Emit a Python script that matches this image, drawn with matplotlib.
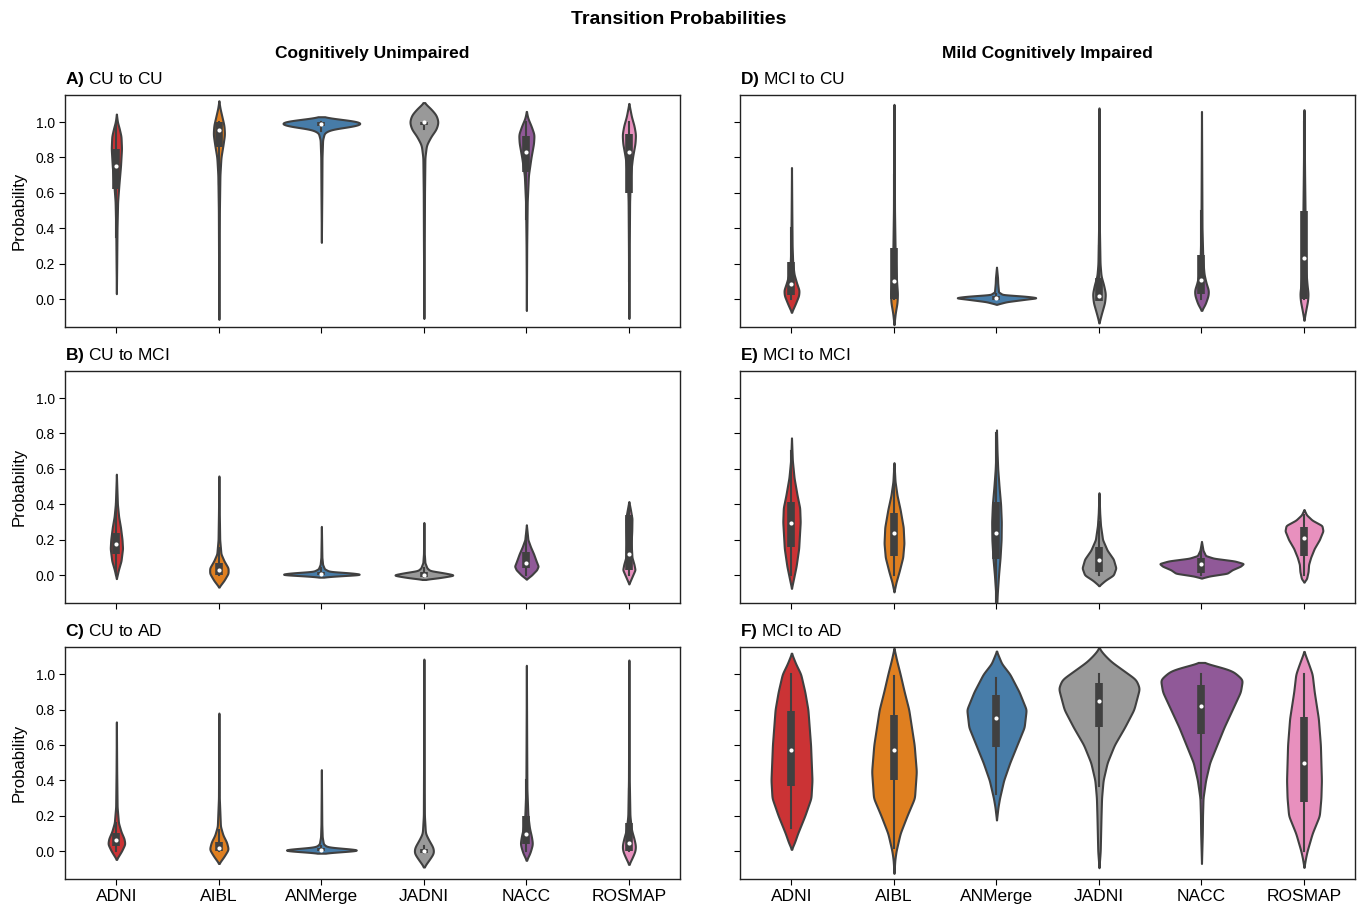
import numpy as np
import matplotlib
matplotlib.use("Agg")
import matplotlib.pyplot as plt
import seaborn as sns

plt.rcParams["font.family"] = ["Liberation Sans", "DejaVu Sans"]
plt.rcParams["mathtext.fontset"] = "custom"
plt.rcParams["mathtext.bf"] = "Liberation Sans:bold"
plt.rcParams["mathtext.rm"] = "Liberation Sans"

cohorts = ["ADNI", "AIBL", "ANMerge", "JADNI", "NACC", "ROSMAP"]

# violin outlines: (probability, half width) from bottom to top, one list per cohort
cu_cu_shape = [
    [(0.03, 0), (0.2, 0.003), (0.4, 0.006), (0.55, 0.012), (0.65, 0.025), (0.75, 0.04), (0.85, 0.05), (0.92, 0.045), (0.97, 0.025), (1.0, 0.01), (1.045, 0)],
    [(-0.115, 0), (0.2, 0.003), (0.5, 0.005), (0.7, 0.01), (0.8, 0.02), (0.87, 0.04), (0.93, 0.055), (0.98, 0.05), (1.03, 0.03), (1.08, 0.01), (1.12, 0)],
    [(0.32, 0), (0.6, 0.004), (0.8, 0.006), (0.9, 0.012), (0.94, 0.03), (0.96, 0.1), (0.975, 0.3), (0.99, 0.4), (1.005, 0.35), (1.02, 0.12), (1.03, 0)],
    [(-0.11, 0), (0.3, 0.004), (0.6, 0.006), (0.8, 0.01), (0.87, 0.025), (0.92, 0.07), (0.96, 0.12), (1.0, 0.14), (1.04, 0.12), (1.08, 0.06), (1.11, 0)],
    [(-0.065, 0), (0.3, 0.003), (0.55, 0.008), (0.7, 0.02), (0.8, 0.045), (0.88, 0.07), (0.93, 0.075), (0.98, 0.045), (1.02, 0.015), (1.06, 0)],
    [(-0.11, 0), (0.3, 0.004), (0.55, 0.007), (0.7, 0.015), (0.8, 0.035), (0.88, 0.06), (0.93, 0.065), (0.98, 0.05), (1.03, 0.025), (1.105, 0)],
]
cu_mci_shape = [
    [(-0.02, 0), (0.03, 0.02), (0.08, 0.045), (0.15, 0.06), (0.2, 0.055), (0.27, 0.04), (0.33, 0.022), (0.4, 0.01), (0.5, 0.004), (0.57, 0)],
    [(-0.068, 0), (-0.03, 0.05), (0.01, 0.09), (0.04, 0.09), (0.08, 0.05), (0.12, 0.02), (0.2, 0.008), (0.35, 0.004), (0.56, 0)],
    [(-0.012, 0), (-0.005, 0.15), (0.003, 0.41), (0.012, 0.3), (0.02, 0.08), (0.035, 0.03), (0.06, 0.012), (0.1, 0.005), (0.275, 0)],
    [(-0.025, 0), (-0.015, 0.15), (0.0, 0.305), (0.012, 0.2), (0.025, 0.06), (0.04, 0.03), (0.07, 0.01), (0.12, 0.004), (0.297, 0)],
    [(-0.023, 0), (0.0, 0.05), (0.03, 0.1), (0.05, 0.115), (0.08, 0.095), (0.12, 0.07), (0.16, 0.04), (0.2, 0.015), (0.284, 0)],
    [(-0.05, 0), (-0.01, 0.03), (0.03, 0.06), (0.06, 0.05), (0.1, 0.03), (0.18, 0.022), (0.25, 0.028), (0.32, 0.03), (0.37, 0.015), (0.415, 0)],
]
cu_ad_shape = [
    [(-0.047, 0), (0.0, 0.05), (0.04, 0.083), (0.07, 0.075), (0.11, 0.045), (0.16, 0.02), (0.25, 0.007), (0.45, 0.003), (0.73, 0)],
    [(-0.07, 0), (-0.03, 0.05), (0.01, 0.092), (0.05, 0.075), (0.09, 0.04), (0.14, 0.015), (0.3, 0.004), (0.78, 0)],
    [(-0.012, 0), (-0.005, 0.15), (0.004, 0.415), (0.012, 0.3), (0.022, 0.06), (0.04, 0.02), (0.08, 0.008), (0.15, 0.004), (0.46, 0)],
    [(-0.09, 0), (-0.05, 0.05), (-0.01, 0.096), (0.02, 0.09), (0.06, 0.05), (0.1, 0.015), (0.2, 0.005), (0.5, 0.003), (1.085, 0)],
    [(-0.052, 0), (-0.01, 0.035), (0.04, 0.06), (0.08, 0.05), (0.13, 0.03), (0.2, 0.015), (0.35, 0.005), (0.6, 0.003), (1.05, 0)],
    [(-0.075, 0), (-0.04, 0.03), (0.0, 0.06), (0.03, 0.065), (0.07, 0.05), (0.12, 0.025), (0.2, 0.01), (0.4, 0.004), (1.08, 0)],
]
mci_cu_shape = [
    [(-0.075, 0), (-0.03, 0.035), (0.02, 0.07), (0.05, 0.074), (0.09, 0.05), (0.14, 0.025), (0.2, 0.012), (0.3, 0.006), (0.5, 0.003), (0.743, 0)],
    [(-0.145, 0), (-0.08, 0.012), (-0.02, 0.03), (0.03, 0.034), (0.1, 0.025), (0.2, 0.015), (0.3, 0.01), (0.5, 0.005), (0.8, 0.003), (1.10, 0)],
    [(-0.03, 0), (-0.015, 0.1), (0.0, 0.3), (0.007, 0.405), (0.015, 0.3), (0.025, 0.06), (0.04, 0.02), (0.07, 0.015), (0.09, 0.012), (0.12, 0.01), (0.18, 0)],
    [(-0.135, 0), (-0.08, 0.025), (-0.02, 0.055), (0.03, 0.063), (0.08, 0.045), (0.13, 0.02), (0.2, 0.01), (0.4, 0.004), (1.08, 0)],
    [(-0.064, 0), (-0.03, 0.035), (0.02, 0.065), (0.05, 0.068), (0.09, 0.045), (0.14, 0.025), (0.22, 0.013), (0.4, 0.005), (1.06, 0)],
    [(-0.12, 0), (-0.07, 0.015), (-0.01, 0.035), (0.03, 0.04), (0.08, 0.03), (0.15, 0.02), (0.3, 0.014), (0.5, 0.01), (0.7, 0.006), (1.07, 0)],
]
mci_mci_shape = [
    [(-0.075, 0), (-0.02, 0.02), (0.05, 0.045), (0.15, 0.07), (0.3, 0.085), (0.38, 0.08), (0.45, 0.055), (0.55, 0.025), (0.65, 0.008), (0.775, 0)],
    [(-0.095, 0), (-0.04, 0.02), (0.02, 0.05), (0.1, 0.085), (0.18, 0.097), (0.27, 0.09), (0.37, 0.06), (0.45, 0.03), (0.53, 0.01), (0.635, 0)],
    [(-0.2, 0), (-0.1, 0.008), (0.0, 0.02), (0.1, 0.035), (0.2, 0.045), (0.3, 0.047), (0.4, 0.04), (0.5, 0.025), (0.6, 0.012), (0.7, 0.005), (0.82, 0)],
    [(-0.06, 0), (-0.03, 0.06), (0.0, 0.14), (0.04, 0.165), (0.09, 0.14), (0.14, 0.08), (0.2, 0.035), (0.28, 0.015), (0.35, 0.007), (0.465, 0)],
    [(-0.017, 0), (-0.005, 0.08), (0.01, 0.25), (0.03, 0.3), (0.05, 0.38), (0.065, 0.41), (0.08, 0.32), (0.095, 0.12), (0.11, 0.04), (0.14, 0.015), (0.19, 0)],
    [(-0.04, 0), (-0.02, 0.025), (0.02, 0.04), (0.06, 0.045), (0.1, 0.065), (0.15, 0.1), (0.2, 0.15), (0.25, 0.185), (0.28, 0.175), (0.31, 0.08), (0.34, 0.025), (0.37, 0)],
]
mci_ad_shape = [
    [(0.01, 0), (0.05, 0.03), (0.1, 0.06), (0.2, 0.13), (0.3, 0.19), (0.4, 0.2), (0.6, 0.186), (0.8, 0.16), (0.9, 0.13), (1.0, 0.09), (1.06, 0.04), (1.118, 0)],
    [(-0.126, 0), (-0.05, 0.008), (0.0, 0.02), (0.1, 0.06), (0.2, 0.127), (0.3, 0.2), (0.45, 0.218), (0.6, 0.197), (0.8, 0.144), (0.9, 0.1), (1.0, 0.06), (1.08, 0.025), (1.146, 0)],
    [(0.176, 0), (0.25, 0.015), (0.3, 0.03), (0.4, 0.07), (0.5, 0.13), (0.6, 0.2), (0.7, 0.27), (0.8, 0.29), (0.9, 0.22), (1.0, 0.13), (1.06, 0.05), (1.13, 0)],
    [(-0.094, 0), (0.0, 0.012), (0.2, 0.02), (0.3, 0.025), (0.4, 0.04), (0.5, 0.08), (0.6, 0.15), (0.7, 0.25), (0.8, 0.34), (0.92, 0.395), (0.97, 0.36), (1.02, 0.24), (1.07, 0.12), (1.11, 0.05), (1.146, 0)],
    [(-0.07, 0), (0.1, 0.008), (0.2, 0.01), (0.3, 0.015), (0.4, 0.04), (0.5, 0.08), (0.6, 0.15), (0.7, 0.22), (0.8, 0.3), (0.9, 0.38), (0.97, 0.40), (1.02, 0.3), (1.05, 0.12), (1.066, 0)],
    [(-0.092, 0), (-0.04, 0.015), (0.0, 0.03), (0.1, 0.08), (0.2, 0.15), (0.3, 0.165), (0.4, 0.17), (0.6, 0.16), (0.75, 0.14), (0.9, 0.1), (1.0, 0.08), (1.05, 0.05), (1.128, 0)],
]

# inner boxes: (whisker low, q1, median, q3, whisker high)
cu_cu_box = [(0.35, 0.62, 0.75, 0.85, 1.0), (0.65, 0.86, 0.955, 1.0, 1.0), (0.95, 0.98, 0.99, 1.0, 1.0),
             (0.96, 0.985, 0.998, 1.0, 1.0), (0.45, 0.72, 0.83, 0.92, 1.0), (0.1, 0.6, 0.83, 0.93, 1.0)]
cu_mci_box = [(0.0, 0.12, 0.175, 0.24, 0.4), (0.0, 0.0, 0.03, 0.07, 0.15), (0.0, 0.0, 0.007, 0.02, 0.04),
              (-0.01, -0.01, 0.0, 0.02, 0.04), (0.0, 0.04, 0.07, 0.128, 0.22), (0.0, 0.03, 0.12, 0.34, 0.4)]
cu_ad_box = [(0.0, 0.03, 0.06, 0.1, 0.16), (0.0, 0.0, 0.015, 0.05, 0.12), (0.0, 0.0, 0.005, 0.015, 0.03),
             (-0.01, -0.01, 0.0, 0.01, 0.03), (0.0, 0.04, 0.095, 0.2, 0.4), (0.0, 0.0, 0.045, 0.16, 0.35)]
mci_cu_box = [(0.0, 0.02, 0.085, 0.21, 0.4), (0.0, 0.0, 0.1, 0.29, 0.7), (0.0, -0.005, 0.005, 0.015, 0.03),
              (0.0, -0.01, 0.015, 0.12, 0.3), (0.0, 0.03, 0.105, 0.25, 0.5), (0.0, 0.0, 0.23, 0.5, 1.0)]
mci_mci_box = [(0.0, 0.16, 0.295, 0.41, 0.7), (0.0, 0.105, 0.235, 0.35, 0.6), (-0.15, 0.09, 0.235, 0.41, 0.8),
               (0.0, 0.02, 0.085, 0.16, 0.3), (0.0, 0.01, 0.06, 0.095, 0.14), (0.0, 0.11, 0.21, 0.27, 0.34)]
mci_ad_box = [(0.13, 0.37, 0.57, 0.79, 1.0), (0.02, 0.4, 0.57, 0.77, 0.99), (0.32, 0.59, 0.75, 0.88, 0.98),
              (0.37, 0.7, 0.85, 0.95, 1.0), (0.3, 0.66, 0.82, 0.94, 1.0), (0.0, 0.28, 0.495, 0.76, 1.0)]

panels = [
    ("A)", "CU to CU", cu_cu_shape, cu_cu_box),
    ("B)", "CU to MCI", cu_mci_shape, cu_mci_box),
    ("C)", "CU to AD", cu_ad_shape, cu_ad_box),
    ("D)", "MCI to CU", mci_cu_shape, mci_cu_box),
    ("E)", "MCI to MCI", mci_mci_shape, mci_mci_box),
    ("F)", "MCI to AD", mci_ad_shape, mci_ad_box),
]

set1 = sns.color_palette("Set1")
palette = [sns.desaturate(set1[i], 0.75) for i in (0, 4, 1, 8, 3, 7)]
line_col = "#404040"


def smooth_outline(points):
    y_pts = np.array([p[0] for p in points])
    w_pts = np.array([p[1] for p in points])
    y = np.linspace(y_pts[0], y_pts[-1], 600)
    w = np.interp(y, y_pts, w_pts)
    # light gaussian smoothing so the outline has no corners
    k = np.exp(-0.5 * (np.arange(-15, 16) / 6.0) ** 2)
    k /= k.sum()
    w = np.convolve(np.pad(w, 15), k, mode="same")[15:-15]
    return y, w


def draw_violins(ax, shapes, boxes):
    for i, (pts, box) in enumerate(zip(shapes, boxes)):
        y, w = smooth_outline(pts)
        ax.fill_betweenx(y, i - w, i + w, facecolor=palette[i], edgecolor=line_col,
                         linewidth=1.5, zorder=2)
        lo, q1, med, q3, hi = box
        ax.plot([i, i], [lo, hi], color=line_col, lw=1.5, zorder=3)
        ax.plot([i, i], [q1, q3], color=line_col, lw=5.5, solid_capstyle="butt", zorder=3)
        ax.scatter([i], [med], s=9, color="white", zorder=4, linewidths=0)


fig = plt.figure(figsize=(13.57, 9.08), dpi=100)
lefts = [0.048, 0.5455]
bottoms = [0.6399, 0.3359, 0.0319]
width, height = 0.4532, 0.2555

for k, (tag, name, shapes, boxes) in enumerate(panels):
    col, row = divmod(k, 3)
    ax = fig.add_axes([lefts[col], bottoms[row], width, height])
    draw_violins(ax, shapes, boxes)
    ax.set_xlim(-0.5, 5.5)
    ax.set_ylim(-0.158, 1.153)
    ax.set_yticks([0.0, 0.2, 0.4, 0.6, 0.8, 1.0])
    ax.set_xticks(range(len(cohorts)))
    ax.tick_params(axis="y", labelsize=10, length=4)
    ax.tick_params(axis="x", labelsize=12.5, length=4)
    if row == 2:
        ax.set_xticklabels(cohorts)
    else:
        ax.set_xticklabels([])
    if col == 0:
        ax.set_ylabel("Probability", fontsize=12, labelpad=6)
    else:
        ax.set_yticklabels([])
    for s in ax.spines.values():
        s.set_linewidth(1.0)
        s.set_color("#222222")
    ax.set_title(r"$\mathbf{" + tag + "}$ " + name, loc="left", fontsize=12.5, pad=8)

fig.text(0.5, 0.979, "Transition Probabilities", ha="center", va="center",
         fontsize=14, fontweight="bold")
fig.text(lefts[0] + width / 2, 0.941, "Cognitively Unimpaired", ha="center", va="center",
         fontsize=12.5, fontweight="bold")
fig.text(lefts[1] + width / 2, 0.941, "Mild Cognitively Impaired", ha="center", va="center",
         fontsize=12.5, fontweight="bold")

fig.savefig("out.png", dpi=100)
